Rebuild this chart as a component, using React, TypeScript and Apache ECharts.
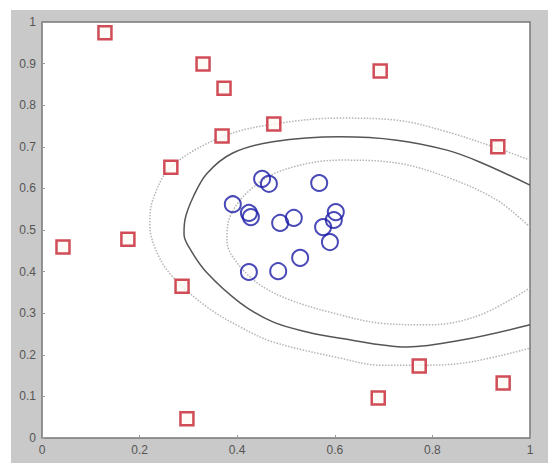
import React, { useEffect, useRef } from "react";
import * as echarts from "echarts";

// Class A (red squares)
const squaresX = [0.129, 0.330, 0.373, 0.693, 0.475, 0.369, 0.934, 0.264, 0.043, 0.176, 0.287, 0.773, 0.945, 0.689, 0.297];
const squaresY = [0.974, 0.899, 0.841, 0.882, 0.755, 0.726, 0.700, 0.651, 0.459, 0.478, 0.365, 0.173, 0.132, 0.096, 0.046];

// Class B (blue circles)
const circlesX = [0.451, 0.465, 0.568, 0.391, 0.424, 0.428, 0.488, 0.516, 0.602, 0.598, 0.576, 0.590, 0.529, 0.484, 0.424];
const circlesY = [0.623, 0.611, 0.613, 0.562, 0.541, 0.531, 0.517, 0.529, 0.543, 0.524, 0.507, 0.471, 0.433, 0.401, 0.399];

// Decision boundary (solid)
const boundaryX = [1.0, 0.898, 0.830, 0.727, 0.611, 0.473, 0.391, 0.338, 0.310, 0.293, 0.291, 0.303, 0.338, 0.406, 0.473, 0.543, 0.611, 0.748, 0.863, 1.0];
const boundaryY = [0.608, 0.663, 0.692, 0.716, 0.724, 0.712, 0.685, 0.636, 0.580, 0.525, 0.490, 0.455, 0.397, 0.325, 0.279, 0.255, 0.240, 0.219, 0.236, 0.272];

// Outer margin (dotted)
const outerX = [1.0, 0.932, 0.830, 0.727, 0.611, 0.477, 0.369, 0.264, 0.227, 0.221, 0.236, 0.268, 0.338, 0.406, 0.473, 0.611, 0.693, 0.770, 0.863, 1.0];
const outerY = [0.668, 0.697, 0.736, 0.764, 0.769, 0.755, 0.724, 0.651, 0.572, 0.512, 0.445, 0.387, 0.315, 0.267, 0.231, 0.192, 0.175, 0.175, 0.180, 0.216];

// Inner margin (dotted)
const innerX = [1.0, 0.932, 0.830, 0.727, 0.611, 0.494, 0.426, 0.385, 0.379, 0.391, 0.441, 0.508, 0.611, 0.693, 0.795, 0.898, 1.0];
const innerY = [0.507, 0.572, 0.627, 0.661, 0.668, 0.644, 0.596, 0.531, 0.476, 0.435, 0.373, 0.332, 0.296, 0.276, 0.272, 0.296, 0.361];

const zip = (xs: number[], ys: number[]) => xs.map((x, i) => [x, ys[i]]);

export default function App() {
  const ref = useRef<HTMLDivElement>(null);
  useEffect(() => {
    if (!ref.current) return;
    const chart = echarts.init(ref.current, null, { renderer: "svg" });
    const labelStyle = { color: "#555555", fontSize: 12, fontFamily: "Liberation Sans, Arial, sans-serif" };
    chart.setOption({
      animation: false,
      backgroundColor: "#ffffff",
      graphic: [
        { type: "rect", z: -10, shape: { x: 11, y: 10, width: 537, height: 453 }, style: { fill: "#c9c9c9" }, silent: true },
      ],
      grid: {
        left: 42,
        top: 22,
        width: 488,
        height: 416,
        show: true,
        backgroundColor: "#ffffff",
        borderColor: "#777777",
        borderWidth: 1.5,
      },
      xAxis: {
        type: "value",
        min: 0,
        max: 1,
        interval: 0.2,
        splitLine: { show: false },
        axisLine: { show: false },
        axisTick: { show: true, inside: true, length: 3, lineStyle: { color: "#999" } },
        axisLabel: { ...labelStyle, margin: 6 },
      },
      yAxis: {
        type: "value",
        min: 0,
        max: 1,
        interval: 0.1,
        splitLine: { show: false },
        axisLine: { show: false },
        axisTick: { show: true, inside: true, length: 3, lineStyle: { color: "#999" } },
        axisLabel: { ...labelStyle, margin: 6 },
      },
      series: [
        {
          type: "line",
          data: zip(outerX, outerY),
          smooth: 0.35,
          showSymbol: false,
          lineStyle: { color: "#b4b4b4", width: 1.5, type: [1.5, 1.5] },
          z: 1,
        },
        {
          type: "line",
          data: zip(innerX, innerY),
          smooth: 0.35,
          showSymbol: false,
          lineStyle: { color: "#b4b4b4", width: 1.5, type: [1.5, 1.5] },
          z: 1,
        },
        {
          type: "line",
          data: zip(boundaryX, boundaryY),
          smooth: 0.35,
          showSymbol: false,
          lineStyle: { color: "#555555", width: 1.5 },
          z: 2,
        },
        {
          type: "scatter",
          data: zip(squaresX, squaresY),
          symbol: "rect",
          symbolSize: 13,
          itemStyle: { color: "#fffaf5", borderColor: "#c4202e", borderWidth: 2.5 },
          z: 3,
        },
        {
          type: "scatter",
          data: zip(circlesX, circlesY),
          symbol: "circle",
          symbolSize: 16,
          itemStyle: { color: "rgba(0,0,0,0)", borderColor: "#1c1ca6", borderWidth: 2 },
          z: 3,
        },
      ],
    });
    return () => chart.dispose();
  }, []);
  return (
    <div
      ref={ref}
      style={{ position: "absolute", left: 0, top: 0, width: 548, height: 463 }}
    />
  );
}
